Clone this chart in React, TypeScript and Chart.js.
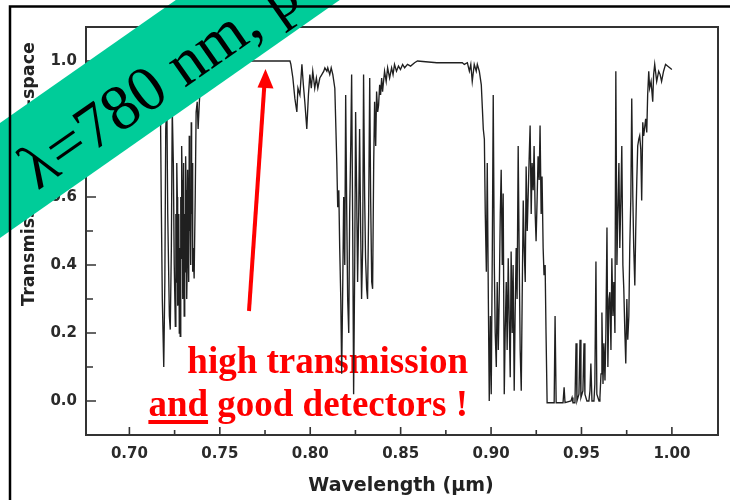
import React, { useEffect, useRef } from 'react';
import { Chart, registerables } from 'chart.js';

Chart.register(...registerables);

// ---- data (wavelength in µm, transmission), split per absorption band ----
// plateau before the 0.72 µm band
const plateau1Wl: number[] = [0.7000, 0.7050, 0.7100, 0.7140, 0.7160];
const plateau1Tr: number[] = [0.99, 0.99, 0.98, 0.97, 0.95];

// 0.72 µm band
const band1Wl: number[] = [
  0.7171, 0.7176, 0.7182, 0.7190, 0.7196, 0.7201, 0.7207, 0.7212, 0.7221, 0.7226,
  0.7232, 0.7237, 0.7243, 0.7248, 0.7254, 0.7257, 0.7259, 0.7262, 0.7265, 0.7267,
  0.7270, 0.7273, 0.7276, 0.7278, 0.7281, 0.7284, 0.7287, 0.7289, 0.7292, 0.7295,
  0.7298, 0.7300, 0.7303, 0.7306, 0.7309, 0.7311, 0.7314, 0.7317, 0.7320, 0.7322,
  0.7325, 0.7328, 0.7331, 0.7333, 0.7336, 0.7339, 0.7342, 0.7344, 0.7347, 0.7350,
  0.7353, 0.7358, 0.7364, 0.7369, 0.7375, 0.7380, 0.7386, 0.7391,
];
const band1Tr: number[] = [
  0.90, 0.60, 0.30, 0.10, 0.35, 0.80, 0.88, 0.55, 0.25, 0.21,
  0.45, 0.86, 0.70, 0.40, 0.22, 0.55, 0.35, 0.70, 0.60, 0.28,
  0.30, 0.55, 0.20, 0.45, 0.19, 0.60, 0.42, 0.75, 0.65, 0.30,
  0.45, 0.70, 0.25, 0.55, 0.38, 0.72, 0.62, 0.30, 0.40, 0.68,
  0.55, 0.35, 0.78, 0.50, 0.60, 0.40, 0.82, 0.55, 0.70, 0.38,
  0.45, 0.36, 0.60, 0.85, 0.88, 0.80, 0.87, 0.92,
];

// window around 0.76-0.79 µm
const plateau2Wl: number[] = [0.7420, 0.7450, 0.7480, 0.7510, 0.7540, 0.7570, 0.7600, 0.7640, 0.7700, 0.7800, 0.7888];
const plateau2Tr: number[] = [0.97, 0.94, 0.98, 0.96, 0.99, 0.98, 0.995, 1.00, 1.00, 1.00, 1.00];

// 0.79-0.86 µm (ripples + 0.82 µm band)
const band2Wl: number[] = [
  0.7893, 0.7904, 0.7915, 0.7926, 0.7932, 0.7943, 0.7954, 0.7962, 0.7970, 0.7981,
  0.7990, 0.7998, 0.8006, 0.8014, 0.8025, 0.8034, 0.8042, 0.8053, 0.8064, 0.8075,
  0.8081, 0.8092, 0.8097, 0.8108, 0.8116, 0.8125, 0.8136, 0.8141, 0.8147, 0.8152,
  0.8158, 0.8163, 0.8169, 0.8174, 0.8180, 0.8185, 0.8191, 0.8196, 0.8202, 0.8207,
  0.8213, 0.8218, 0.8224, 0.8229, 0.8235, 0.8240, 0.8246, 0.8251, 0.8257, 0.8262,
  0.8268, 0.8273, 0.8279, 0.8284, 0.8290, 0.8295, 0.8301, 0.8306, 0.8312, 0.8317,
  0.8323, 0.8329, 0.8334, 0.8340, 0.8345, 0.8351, 0.8356, 0.8362, 0.8367, 0.8373,
  0.8378, 0.8384, 0.8389, 0.8395, 0.8400, 0.8411, 0.8420, 0.8428, 0.8439, 0.8450,
  0.8458, 0.8466, 0.8477, 0.8488, 0.8499, 0.8511, 0.8522, 0.8538, 0.8555, 0.8577,
  0.8593, 0.8700, 0.8770,
];
const band2Tr: number[] = [
  0.99, 0.95, 0.89, 0.85, 0.92, 0.90, 0.99, 0.93, 0.88, 0.80,
  0.90, 0.96, 0.92, 0.97, 0.92, 0.95, 0.92, 0.95, 0.96, 0.97,
  0.98, 0.97, 0.98, 0.96, 0.98, 0.96, 0.92, 0.82, 0.70, 0.57,
  0.62, 0.45, 0.30, 0.08, 0.35, 0.60, 0.40, 0.90, 0.55, 0.30,
  0.20, 0.55, 0.75, 0.96, 0.50, 0.02, 0.40, 0.85, 0.60, 0.35,
  0.55, 0.80, 0.50, 0.30, 0.45, 0.96, 0.60, 0.42, 0.33, 0.30,
  0.55, 0.95, 0.60, 0.35, 0.33, 0.70, 0.88, 0.75, 0.91, 0.85,
  0.87, 0.93, 0.90, 0.95, 0.91, 0.97, 0.94, 0.98, 0.95, 0.98,
  0.96, 0.99, 0.97, 0.985, 0.975, 0.99, 0.98, 0.99, 0.985, 0.995,
  1.00, 0.995, 0.995,
];

// 0.88-0.93 µm band
const band3Wl: number[] = [
  0.8841, 0.8852, 0.8869, 0.8880, 0.8888, 0.8896, 0.8907, 0.8918, 0.8924, 0.8935,
  0.8946, 0.8952, 0.8957, 0.8963, 0.8968, 0.8974, 0.8979, 0.8985, 0.8990, 0.8996,
  0.9001, 0.9007, 0.9012, 0.9018, 0.9023, 0.9029, 0.9034, 0.9040, 0.9045, 0.9051,
  0.9056, 0.9062, 0.9067, 0.9073, 0.9078, 0.9084, 0.9089, 0.9095, 0.9100, 0.9106,
  0.9111, 0.9117, 0.9122, 0.9128, 0.9133, 0.9139, 0.9144, 0.9150, 0.9156, 0.9161,
  0.9167, 0.9172, 0.9178, 0.9183, 0.9189, 0.9194, 0.9200, 0.9205, 0.9211, 0.9216,
  0.9222, 0.9227, 0.9233, 0.9238, 0.9244, 0.9249, 0.9255, 0.9260, 0.9266, 0.9271,
  0.9277, 0.9282, 0.9288, 0.9293, 0.9299, 0.9304, 0.9310,
];
const band3Tr: number[] = [
  0.995, 0.99, 0.995, 0.97, 0.99, 0.94, 0.99, 0.97, 0.99, 0.97,
  0.93, 0.86, 0.80, 0.77, 0.55, 0.38, 0.70, 0.30, 0.00, 0.25,
  0.02, 0.45, 0.90, 0.40, 0.20, 0.10, 0.35, 0.15, 0.30, 0.55,
  0.68, 0.40, 0.61, 0.02, 0.20, 0.35, 0.15, 0.42, 0.25, 0.07,
  0.44, 0.20, 0.40, 0.03, 0.25, 0.45, 0.30, 0.75, 0.40, 0.15,
  0.03, 0.30, 0.59, 0.45, 0.35, 0.69, 0.50, 0.60, 0.72, 0.81,
  0.55, 0.70, 0.62, 0.75, 0.55, 0.47, 0.60, 0.72, 0.65, 0.81,
  0.55, 0.66, 0.45, 0.37, 0.40, 0.20, -0.005,
];

// 0.93-1.00 µm (opaque floor, then recovery)
const band4Wl: number[] = [
  0.9349, 0.9354, 0.9360, 0.9398, 0.9404, 0.9409, 0.9442, 0.9448, 0.9453, 0.9464,
  0.9470, 0.9475, 0.9486, 0.9492, 0.9497, 0.9508, 0.9514, 0.9519, 0.9530, 0.9541,
  0.9547, 0.9552, 0.9558, 0.9569, 0.9574, 0.9580, 0.9585, 0.9597, 0.9602, 0.9608,
  0.9613, 0.9619, 0.9624, 0.9630, 0.9635, 0.9641, 0.9646, 0.9652, 0.9657, 0.9663,
  0.9668, 0.9674, 0.9679, 0.9685, 0.9690, 0.9696, 0.9701, 0.9707, 0.9712, 0.9718,
  0.9723, 0.9729, 0.9734, 0.9740, 0.9745, 0.9751, 0.9756, 0.9762, 0.9767, 0.9773,
  0.9778, 0.9784, 0.9789, 0.9795, 0.9800, 0.9806, 0.9811, 0.9817, 0.9822, 0.9828,
  0.9833, 0.9839, 0.9844, 0.9855, 0.9861, 0.9866, 0.9872, 0.9877, 0.9885, 0.9894,
  0.9899, 0.9905, 0.9916, 0.9927, 0.9935, 0.9943, 0.9954, 0.9965, 0.9976, 0.9988,
  1.0000,
];
const band4Tr: number[] = [
  -0.005, 0.25, -0.005, -0.005, 0.04, -0.005, 0.00, 0.01, -0.005, -0.005,
  0.17, 0.00, 0.02, 0.18, 0.01, 0.03, 0.17, 0.02, 0.00, 0.00,
  0.03, 0.11, 0.00, 0.00, 0.05, 0.41, 0.02, 0.00, 0.01, 0.08,
  0.26, 0.05, 0.17, 0.06, 0.20, 0.51, 0.10, 0.30, 0.32, 0.15,
  0.42, 0.25, 0.35, 0.20, 0.97, 0.40, 0.55, 0.70, 0.45, 0.60,
  0.75, 0.40, 0.33, 0.20, 0.11, 0.30, 0.18, 0.25, 0.45, 0.60,
  0.89, 0.60, 0.45, 0.34, 0.50, 0.65, 0.75, 0.77, 0.78, 0.74,
  0.59, 0.82, 0.78, 0.83, 0.79, 0.90, 0.97, 0.92, 0.94, 0.88,
  0.96, 0.99, 0.94, 0.97, 0.96, 0.94, 0.97, 0.99, 0.985, 0.98,
  0.975,
];

const wavelength: number[] = [...plateau1Wl, ...band1Wl, ...plateau2Wl, ...band2Wl, ...band3Wl, ...band4Wl];
const transmission: number[] = [...plateau1Tr, ...band1Tr, ...plateau2Tr, ...band2Tr, ...band3Tr, ...band4Tr];

const xTickValues: number[] = [0.70, 0.75, 0.80, 0.85, 0.90, 0.95, 1.00];
const xMinorTicks: number[] = [0.725, 0.775, 0.825, 0.875, 0.925, 0.975];
const yTickValues: number[] = [0.0, 0.2, 0.4, 0.6, 0.8, 1.0];
const yMinorTicks: number[] = [0.1, 0.3, 0.5, 0.7, 0.9];

const xAxisTitle = 'Wavelength (\u03bcm)';
const yAxisTitle = 'Transmission in free-space';
const bannerText = '\u03bb=780 nm, p';
const noteLine1 = 'high transmission';
const noteLine2Underlined = 'and';
const noteLine2Rest = ' good detectors !';

const SANS = "'DejaVu Sans', 'Liberation Sans', Arial, sans-serif";
const SERIF = "'Liberation Serif', 'Times New Roman', 'DejaVu Serif', serif";

const overlayPlugin = {
  id: 'overlay',
  beforeDatasetsDraw(chart: any) {
    const ctx: CanvasRenderingContext2D = chart.ctx;
    ctx.save();
    ctx.fillStyle = '#ff0000';
    ctx.font = `bold 37px ${SERIF}`;
    ctx.textAlign = 'right';
    ctx.textBaseline = 'alphabetic';
    const rightX = 468;
    ctx.fillText(noteLine1, rightX, 373);
    const full = noteLine2Underlined + noteLine2Rest;
    ctx.fillText(full, rightX, 416);
    const wFull = ctx.measureText(full).width;
    const wAnd = ctx.measureText(noteLine2Underlined).width;
    ctx.fillRect(rightX - wFull, 420, wAnd, 4);
    ctx.restore();
  },
  afterDatasetsDraw(chart: any) {
    const ctx: CanvasRenderingContext2D = chart.ctx;
    const { left, right, top, bottom } = chart.chartArea;
    const xs = chart.scales.x;
    const ys = chart.scales.y;
    ctx.save();
    // plot frame
    ctx.strokeStyle = '#333';
    ctx.lineWidth = 2;
    ctx.strokeRect(left, top, right - left, bottom - top);
    // inward ticks
    ctx.lineWidth = 1.6;
    ctx.beginPath();
    xTickValues.forEach((v) => {
      const p = xs.getPixelForValue(v);
      ctx.moveTo(p, bottom);
      ctx.lineTo(p, bottom - 8);
    });
    xMinorTicks.forEach((v) => {
      const p = xs.getPixelForValue(v);
      ctx.moveTo(p, bottom);
      ctx.lineTo(p, bottom - 5);
    });
    yTickValues.forEach((v) => {
      const p = ys.getPixelForValue(v);
      ctx.moveTo(left, p);
      ctx.lineTo(left + 10, p);
    });
    yMinorTicks.forEach((v) => {
      const p = ys.getPixelForValue(v);
      ctx.moveTo(left, p);
      ctx.lineTo(left + 7, p);
    });
    ctx.stroke();

    // axis titles
    ctx.fillStyle = '#222';
    ctx.font = `bold 19px ${SANS}`;
    ctx.textAlign = 'center';
    ctx.textBaseline = 'alphabetic';
    ctx.fillText(xAxisTitle, 401, 491);
    ctx.save();
    ctx.translate(34, 174);
    ctx.rotate(-Math.PI / 2);
    ctx.font = `bold 17.5px ${SANS}`;
    ctx.fillText(yAxisTitle, 0, 0);
    ctx.restore();

    // green banner
    ctx.save();
    ctx.translate(0, 180.5);
    ctx.rotate((-35 * Math.PI) / 180);
    ctx.fillStyle = '#00cc99';
    ctx.fillRect(-200, -47, 1000, 94);
    ctx.fillStyle = '#000';
    ctx.font = `64px ${SERIF}`;
    ctx.textAlign = 'left';
    ctx.textBaseline = 'alphabetic';
    ctx.fillText(bannerText, 25, 30);
    ctx.restore();

    // red arrow
    ctx.strokeStyle = '#ff0000';
    ctx.fillStyle = '#ff0000';
    ctx.lineWidth = 4;
    ctx.beginPath();
    ctx.moveTo(249, 311);
    ctx.lineTo(264.3, 86);
    ctx.stroke();
    ctx.beginPath();
    ctx.moveTo(265.5, 69);
    ctx.lineTo(273.5, 88.5);
    ctx.lineTo(257.5, 87.5);
    ctx.closePath();
    ctx.fill();

    // outer slide frame
    ctx.strokeStyle = '#000';
    ctx.lineWidth = 2.5;
    ctx.beginPath();
    ctx.moveTo(10, 500);
    ctx.lineTo(10, 6.5);
    ctx.lineTo(730, 6.5);
    ctx.stroke();
    ctx.restore();
  },
};

export default function App() {
  const ref = useRef<HTMLCanvasElement>(null);
  useEffect(() => {
    const canvas = ref.current;
    if (!canvas) return;
    const points = wavelength.map((w, i) => ({ x: w, y: transmission[i] }));
    const tickFont = { family: SANS, size: 15, weight: 'bold' as const };
    const chart = new Chart(canvas, {
      type: 'line',
      data: {
        datasets: [
          {
            data: points,
            borderColor: '#202020',
            borderWidth: 1.35,
            pointRadius: 0,
            tension: 0,
            fill: false,
          },
        ],
      },
      options: {
        responsive: false,
        animation: false,
        devicePixelRatio: 1,
        layout: { padding: { left: 0, top: 27, right: 12, bottom: 0 } },
        plugins: { legend: { display: false }, tooltip: { enabled: false } },
        scales: {
          x: {
            type: 'linear',
            min: 0.676,
            max: 1.0255,
            afterBuildTicks: (s: any) => {
              s.ticks = xTickValues.map((v) => ({ value: v }));
            },
            afterFit: (s: any) => {
              s.height = 65;
            },
            grid: { display: false, drawTicks: false },
            border: { display: false },
            ticks: {
              padding: 10,
              font: tickFont,
              color: '#2a2a2a',
              maxRotation: 0,
              autoSkip: false,
              callback: (v: any) => Number(v).toFixed(2),
            },
          },
          y: {
            type: 'linear',
            min: -0.1,
            max: 1.1,
            afterBuildTicks: (s: any) => {
              s.ticks = yTickValues.map((v) => ({ value: v }));
            },
            afterFit: (s: any) => {
              s.width = 86;
            },
            grid: { display: false, drawTicks: false },
            border: { display: false },
            ticks: {
              padding: 9,
              font: tickFont,
              color: '#2a2a2a',
              autoSkip: false,
              callback: (v: any) => Number(v).toFixed(1),
            },
          },
        },
      },
      plugins: [overlayPlugin],
    });
    return () => chart.destroy();
  }, []);
  return (
    <div style={{ position: 'fixed', left: 0, top: 0, width: 730, height: 500, background: '#fff' }}>
      <canvas ref={ref} width={730} height={500} style={{ display: 'block' }} />
    </div>
  );
}
